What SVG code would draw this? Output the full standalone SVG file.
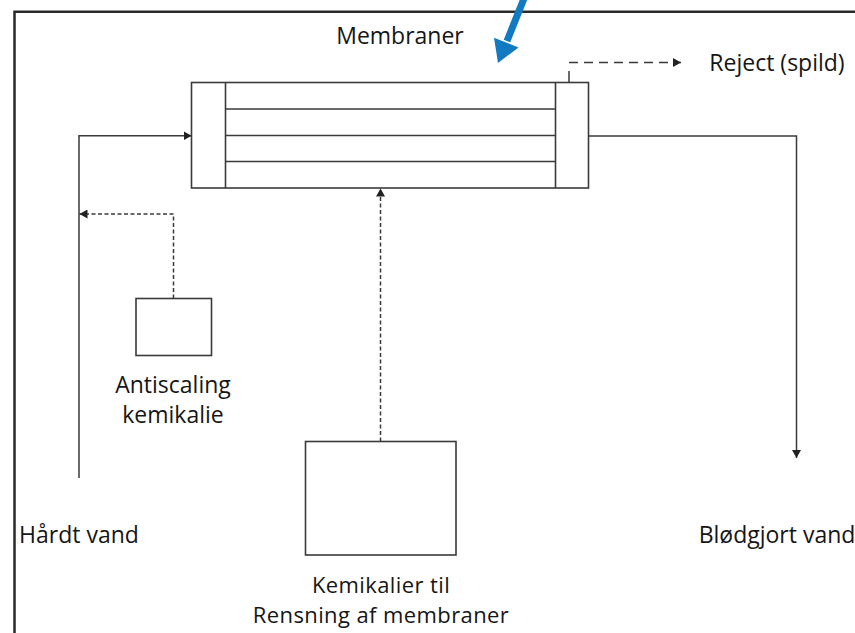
<svg xmlns="http://www.w3.org/2000/svg" width="855" height="633" viewBox="0 0 855 633">
<style>
  .frame{fill:none;stroke:#2a2a2a;stroke-width:2.5}
  .box{fill:#fff;stroke:#3a3a3a;stroke-width:1.6}
  .ln{fill:none;stroke:#3a3a3a;stroke-width:1.6}
  .conn{fill:none;stroke:#3a3a3a;stroke-width:1.5}
  .dash{stroke-dasharray:4 2.5}
  .dash2{stroke-dasharray:9 6}
  .lbl{font-family:"Open Sans","Noto Sans","Liberation Sans",sans-serif;font-size:23px;fill:#161616;text-anchor:middle}
  .sm{font-size:22px;letter-spacing:0.4px}
</style>
<defs>
  <marker id="arr" markerUnits="userSpaceOnUse" markerWidth="9" markerHeight="9" refX="8" refY="4.5" orient="auto" viewBox="0 0 9 9">
    <path d="M0,0 L8,4.5 L0,9 Z" fill="#222"/>
  </marker>
</defs>
<rect width="855" height="633" fill="#fff"/>
<path class="frame" d="M14.5,633 V11.8 H855"/>

<g id="membraner">
  <rect class="box" x="191.5" y="82.5" width="397" height="105.5"/>
  <line class="ln" x1="225.5" y1="82.5" x2="225.5" y2="188"/>
  <line class="ln" x1="555.5" y1="82.5" x2="555.5" y2="188"/>
  <line class="ln" x1="225.5" y1="109" x2="555.5" y2="109"/>
  <line class="ln" x1="225.5" y1="135.5" x2="555.5" y2="135.5"/>
  <line class="ln" x1="225.5" y1="161.5" x2="555.5" y2="161.5"/>
  <text class="lbl" x="400" y="44">Membraner</text>
</g>

<g id="antiscaling">
  <rect class="box" x="136" y="298.5" width="75.5" height="57"/>
  <text class="lbl" x="173" y="392.5">Antiscaling</text>
  <text class="lbl" x="173" y="422.5">kemikalie</text>
</g>

<g id="rensning">
  <rect class="box" x="305.5" y="441.5" width="150.5" height="113.5"/>
  <text class="lbl sm" x="381" y="593">Kemikalier til</text>
  <text class="lbl sm" x="381" y="623">Rensning af membraner</text>
</g>

<g id="haardt-vand">
  <text class="lbl" x="79" y="542.5">Hårdt vand</text>
</g>
<g id="bloedgjort-vand">
  <text class="lbl" x="777" y="543">Blødgjort vand</text>
</g>
<g id="reject">
  <text class="lbl" x="777" y="71">Reject (spild)</text>
</g>

<g id="connectors">
  <path class="conn" d="M79,478 V135.8 H191.5" marker-end="url(#arr)"/>
  <path class="conn dash" d="M173.5,298.5 V214 H79.5" marker-end="url(#arr)"/>
  <path class="conn dash" d="M380.5,441.5 V188.5" marker-end="url(#arr)"/>
  <path class="conn" d="M588.5,136 H796.5 V458" marker-end="url(#arr)"/>
  <line class="conn" x1="569" y1="82.5" x2="569" y2="71"/>
  <path class="conn dash2" d="M569,62.5 H681" marker-end="url(#arr)"/>
</g>

<g id="blue-arrow">
  <line x1="525" y1="-4" x2="507" y2="41" stroke="#127ac0" stroke-width="7"/>
  <polygon points="498,63 494,37.8 518.5,47.4" fill="#127ac0"/>
</g>
</svg>
